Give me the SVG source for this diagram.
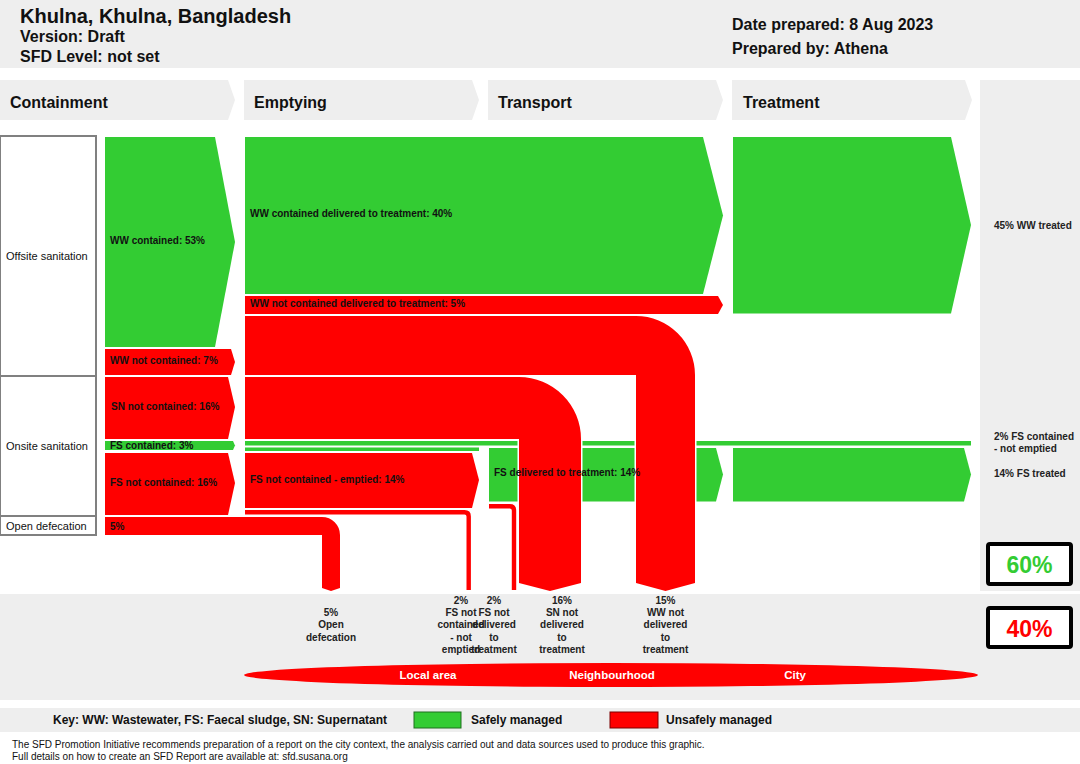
<svg xmlns="http://www.w3.org/2000/svg" width="1080" height="764" viewBox="0 0 1080 764">
<style>
.bg{fill:#eeeeee}
.g{fill:#33cc33}
.r{fill:#ff0000}
.u{fill:#ff0000;stroke:#ffffff;stroke-width:3;paint-order:stroke}
.thin{fill:none;stroke:#ff0000;stroke-width:4.4}
text{font-family:"Liberation Sans",Arial,sans-serif}
.t1{font-size:20px;font-weight:bold;fill:#111}
.t2{font-size:16px;font-weight:bold;fill:#111}
.col{font-size:16px;font-weight:bold;fill:#111}
.side{font-size:11px;fill:#111}
.lbl{font-size:10px;font-weight:bold;fill:#111}
.rp{font-size:10px;font-weight:bold;fill:#222}
.bot{font-size:10px;font-weight:bold;fill:#222;text-anchor:middle}
.area{font-size:11.5px;font-weight:bold;fill:#ffffff;text-anchor:middle}
.key{font-size:12px;font-weight:bold;fill:#111}
.foot{font-size:10px;fill:#111}
.pct{font-size:23px;font-weight:bold;text-anchor:middle}
.box{fill:#ffffff;stroke:#000000;stroke-width:4}
.sbox{fill:#ffffff;stroke:#808080;stroke-width:2}
</style>

<g id="header">
<rect class="bg" x="0" y="0" width="1080" height="68"/>
<text class="t1" x="20" y="23">Khulna, Khulna, Bangladesh</text>
<text class="t2" x="20" y="42">Version: Draft</text>
<text class="t2" x="20" y="62">SFD Level: not set</text>
<text class="t2" x="732" y="30">Date prepared: 8 Aug 2023</text>
<text class="t2" x="732" y="54">Prepared by: Athena</text>
</g>

<g id="columns">
<path class="bg" d="M0,80 H228 L235,100 L228,120 H0 Z"/>
<text class="col" x="10" y="108">Containment</text>
<path class="bg" d="M244,80 H472 L479,100 L472,120 H244 Z"/>
<text class="col" x="254" y="108">Emptying</text>
<path class="bg" d="M488,80 H716 L723,100 L716,120 H488 Z"/>
<text class="col" x="498" y="108">Transport</text>
<path class="bg" d="M732,80 H965 L972,100 L965,120 H732 Z"/>
<text class="col" x="743" y="108">Treatment</text>
</g>

<g id="panels">
<rect class="bg" x="980" y="80" width="100" height="511"/>
<rect class="bg" x="0" y="594" width="1080" height="106"/>
<rect class="bg" x="0" y="708" width="1080" height="24"/>
</g>

<g id="sources">
<rect class="sbox" x="0" y="136" width="96" height="240"/>
<text class="side" x="6" y="260">Offsite sanitation</text>
<rect class="sbox" x="0" y="376" width="96" height="140"/>
<text class="side" x="6" y="450">Onsite sanitation</text>
<rect class="sbox" x="0" y="516" width="96" height="19"/>
<text class="side" x="6" y="530">Open defecation</text>
</g>

<g id="connectors">
<path id="ww-contained" class="g" d="M105,137 H215 L235,242 L215,347 H105 Z"/>
<path id="ww-not-contained" class="r" d="M105,349 H231 L235,362 L231,375 H105 Z"/>
<path id="sn-not-contained" class="r" d="M105,377 H228 L235,407 L228,439 H105 Z"/>
<path id="fs-contained" class="g" d="M105,441 H233 L235,445.5 L233,450 H105 Z"/>
<path id="fs-not-contained" class="r" d="M105,453 H228 L235,483 L228,515 H105 Z"/>
<path id="open-defecation" class="r" d="M105,517 H322 A18,18 0 0 1 340,535 V588 L331,591 L322,588 V535 H105 Z"/>
<path id="ww-delivered" class="g" d="M245,137 H703 L723,215.5 L703,294 H245 Z"/>
<path id="ww-nc-delivered" class="r" d="M245,296 H718 L723,305 L718,314 H245 Z"/>
<rect id="fs-not-emptied-line" class="g" x="245" y="441" width="726" height="4.5"/>
<rect id="fs-emptied-line" class="g" x="245" y="447.5" width="234" height="3.5"/>
<path id="fs-nc-emptied" class="r" d="M245,453 H472 L479,480 L472,508 H245 Z"/>
<path id="fs-nc-not-emptied" class="thin" d="M245,512.2 H464.5 Q468.7,512.2 468.7,516.4 V590"/>
<path id="fs-delivered" class="g" d="M489,448 H716 L723,474.5 L716,501.5 H489 Z"/>
<path id="fs-not-delivered" class="thin" d="M489,506.3 H509.8 Q514,506.3 514,510.5 V590"/>
<path id="ww-not-delivered" class="u" d="M245,316 H636 A59,59 0 0 1 695,375 V583 L665.5,591 L636,583 V375 H245 Z"/>
<path id="sn-not-delivered" class="u" d="M245,377 H519 A62,62 0 0 1 581,439 V583 L550,591 L519,583 V439 H245 Z"/>
<path id="ww-treated" class="g" d="M733,137 H951 L971,225 L951,313.5 H733 Z"/>
<path id="fs-treated" class="g" d="M733,448 H964 L971,474.5 L964,501.5 H733 Z"/>
</g>

<g id="flow-labels">
<text class="lbl" x="110" y="244">WW contained: 53%</text>
<text class="lbl" x="110" y="364">WW not contained: 7%</text>
<text class="lbl" x="111" y="410">SN not contained: 16%</text>
<text class="lbl" x="110" y="448.5">FS contained: 3%</text>
<text class="lbl" x="110" y="486">FS not contained: 16%</text>
<text class="lbl" x="110" y="530">5%</text>
<text class="lbl" x="250" y="217">WW contained delivered to treatment: 40%</text>
<text class="lbl" x="250" y="307">WW not contained delivered to treatment: 5%</text>
<text class="lbl" x="250" y="482.5">FS not contained - emptied: 14%</text>
<text class="lbl" x="494" y="476">FS delivered to treatment: 14%</text>
</g>

<g id="outcomes">
<text class="rp" x="994" y="229">45% WW treated</text>
<text class="rp" x="994" y="440">2% FS contained</text>
<text class="rp" x="994" y="452">- not emptied</text>
<text class="rp" x="994" y="477">14% FS treated</text>
</g>

<g id="totals">
<rect class="box" x="988" y="544" width="83" height="40" rx="2"/>
<text class="pct" x="1029.5" y="573" fill="#33cc33">60%</text>
<rect class="box" x="988" y="608" width="83" height="39" rx="2"/>
<text class="pct" x="1029.5" y="637" fill="#ff0000">40%</text>
</g>

<g id="unsafe-labels">
<text class="bot" x="331"><tspan x="331" y="616">5%</tspan><tspan x="331" y="628">Open</tspan><tspan x="331" y="640.5">defecation</tspan></text>
<text class="bot" x="461"><tspan x="461" y="603.5">2%</tspan><tspan x="461" y="616">FS not</tspan><tspan x="461" y="628">contained</tspan><tspan x="461" y="640.5">- not</tspan><tspan x="461" y="652.5">emptied</tspan></text>
<text class="bot" x="494"><tspan x="494" y="603.5">2%</tspan><tspan x="494" y="616">FS not</tspan><tspan x="494" y="628">delivered</tspan><tspan x="494" y="640.5">to</tspan><tspan x="494" y="652.5">treatment</tspan></text>
<text class="bot" x="562"><tspan x="562" y="603.5">16%</tspan><tspan x="562" y="616">SN not</tspan><tspan x="562" y="628">delivered</tspan><tspan x="562" y="640.5">to</tspan><tspan x="562" y="652.5">treatment</tspan></text>
<text class="bot" x="665.5"><tspan x="665.5" y="603.5">15%</tspan><tspan x="665.5" y="616">WW not</tspan><tspan x="665.5" y="628">delivered</tspan><tspan x="665.5" y="640.5">to</tspan><tspan x="665.5" y="652.5">treatment</tspan></text>
</g>

<g id="areas">
<ellipse class="r" cx="611" cy="675" rx="367" ry="12"/>
<text class="area" x="428" y="679">Local area</text>
<text class="area" x="612" y="679">Neighbourhood</text>
<text class="area" x="795" y="679">City</text>
</g>

<g id="key">
<text class="key" x="53" y="724">Key: WW: Wastewater, FS: Faecal sludge, SN: Supernatant</text>
<rect x="414" y="712" width="47" height="16" fill="#33cc33" stroke="#1e6e1e" stroke-width="1"/>
<text class="key" x="471" y="724">Safely managed</text>
<rect x="610" y="712" width="48" height="16" fill="#ff0000" stroke="#7a0000" stroke-width="1"/>
<text class="key" x="666" y="724">Unsafely managed</text>
</g>

<g id="footer">
<text class="foot" x="12" y="748">The SFD Promotion Initiative recommends preparation of a report on the city context, the analysis carried out and data sources used to produce this graphic.</text>
<text class="foot" x="12" y="760">Full details on how to create an SFD Report are available at: sfd.susana.org</text>
</g>
</svg>
